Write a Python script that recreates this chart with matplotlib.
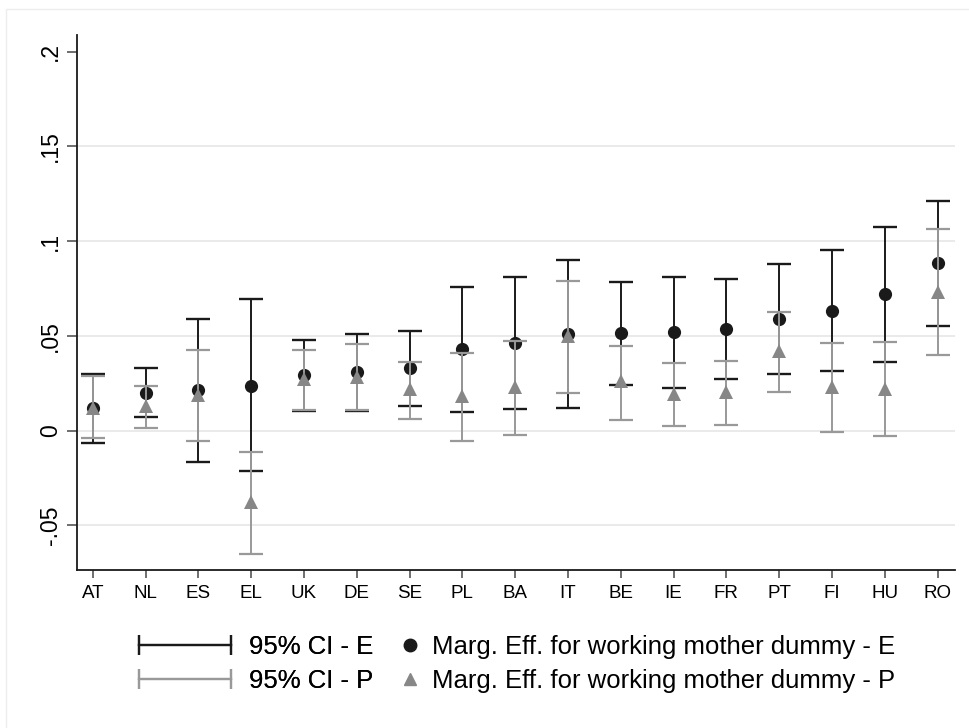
import matplotlib
matplotlib.use('Agg')
import matplotlib.pyplot as plt
import numpy as np
from matplotlib.lines import Line2D
from matplotlib.legend_handler import HandlerLine2D
from matplotlib.patches import Rectangle

# --- Data ---
countries = ['AT', 'NL', 'ES', 'EL', 'UK', 'DE', 'SE', 'PL', 'BA',
             'IT', 'BE', 'IE', 'FR', 'PT', 'FI', 'HU', 'RO']

# marginal effect and 95% CI - E
me_e = [0.0118, 0.0197, 0.0215, 0.0238, 0.0292, 0.0309, 0.0329, 0.0430, 0.0462,
        0.0512, 0.0513, 0.0520, 0.0538, 0.0589, 0.0633, 0.0719, 0.0884]
lo_e = [-0.0063, 0.0071, -0.0164, -0.0210, 0.0104, 0.0104, 0.0130, 0.0097, 0.0113,
        0.0118, 0.0241, 0.0225, 0.0274, 0.0299, 0.0315, 0.0364, 0.0554]
hi_e = [0.0300, 0.0332, 0.0590, 0.0693, 0.0479, 0.0510, 0.0528, 0.0760, 0.0813,
        0.0901, 0.0783, 0.0813, 0.0802, 0.0880, 0.0954, 0.1073, 0.1214]

# marginal effect and 95% CI - P
me_p = [0.0120, 0.0128, 0.0190, -0.0377, 0.0272, 0.0283, 0.0218, 0.0185, 0.0228,
        0.0500, 0.0260, 0.0195, 0.0203, 0.0418, 0.0233, 0.0222, 0.0734]
lo_p = [-0.0040, 0.0013, -0.0056, -0.0650, 0.0110, 0.0110, 0.0063, -0.0053, -0.0023,
        0.0197, 0.0056, 0.0025, 0.0030, 0.0204, -0.0005, -0.0026, 0.0400]
hi_p = [0.0290, 0.0236, 0.0426, -0.0110, 0.0426, 0.0456, 0.0364, 0.0412, 0.0475,
        0.0792, 0.0449, 0.0356, 0.0369, 0.0625, 0.0464, 0.0466, 0.1063]

yticks = [-0.05, 0, 0.05, 0.1, 0.15, 0.2]
ytick_labels = ['-.05', '0', '.05', '.1', '.15', '.2']

# --- Style ---
plt.rcParams['font.family'] = ['Liberation Sans', 'DejaVu Sans']
BLACK = '#1a1a1a'
GRAY_CI = '#999999'
GRAY_PT = '#878787'
LEG_FS = 18.5


def main():
    fig = plt.figure(figsize=(9.69, 7.28), dpi=100)
    fig.patches.append(Rectangle((6 / 969, -0.1), 1.2, 1.1 - 9 / 728,
                                 transform=fig.transFigure, fill=False,
                                 edgecolor='#ededed', lw=1))
    ax = fig.add_axes([77 / 969, 1 - 570 / 728, (955 - 77) / 969, (570 - 35) / 728])

    x = np.arange(len(countries))
    me_e_a, me_p_a = np.array(me_e), np.array(me_p)
    err_e = [me_e_a - np.array(lo_e), np.array(hi_e) - me_e_a]
    err_p = [me_p_a - np.array(lo_p), np.array(hi_p) - me_p_a]

    # grid lines (not at the top tick)
    for t in yticks[:-1]:
        ax.axhline(t, color='#e6e6e6', lw=1.2, zorder=0)

    ax.errorbar(x, me_e, yerr=err_e, fmt='none', ecolor=BLACK, elinewidth=1.4,
                capsize=8.5, capthick=1.7, zorder=2)
    ax.plot(x, me_e, 'o', color=BLACK, ms=9.5, mew=0, zorder=3)
    ax.errorbar(x, me_p, yerr=err_p, fmt='none', ecolor=GRAY_CI, elinewidth=1.4,
                capsize=8.5, capthick=1.6, zorder=4)
    ax.plot(x, me_p, '^', color=GRAY_PT, ms=9.5, mew=0, zorder=5)

    ax.set_xlim(-0.30, 16.33)
    ax.set_ylim(-0.0735, 0.2088)
    ax.set_xticks(x)
    ax.set_xticklabels(countries)
    ax.set_yticks(yticks)
    ax.set_yticklabels(ytick_labels)
    ax.tick_params(axis='y', labelrotation=90, length=7, width=1.2, pad=4,
                   labelsize=16.5, color='#555555')
    ax.tick_params(axis='x', length=6, width=1.2, pad=5, labelsize=13.5,
                   color='#555555')
    for lab in ax.get_yticklabels():
        lab.set_va('center')

    for s in ['top', 'right']:
        ax.spines[s].set_visible(False)
    for s in ['left', 'bottom']:
        ax.spines[s].set_color(BLACK)
        ax.spines[s].set_linewidth(1.3)

    # --- Legend ---
    ci_e = Line2D([], [], color=BLACK, lw=1.6, marker='|', ms=15, mew=1.6)
    ci_p = Line2D([], [], color=GRAY_CI, lw=1.6, marker='|', ms=15, mew=1.6)
    leg1 = fig.legend([ci_e, ci_p], ['95% CI - E', '95% CI - P'],
                      handler_map={ci_e: HandlerLine2D(numpoints=2),
                                   ci_p: HandlerLine2D(numpoints=2)},
                      loc='upper left', bbox_to_anchor=(118 / 969, 1 - 622 / 728),
                      frameon=False, fontsize=LEG_FS, handlelength=4.2,
                      handletextpad=0.38, labelspacing=0.38, borderpad=0)
    fig.add_artist(leg1)

    pt_e = Line2D([], [], color=BLACK, marker='o', ls='none', ms=9)
    pt_p = Line2D([], [], color=GRAY_PT, marker='^', ls='none', ms=9)
    fig.legend([pt_e, pt_p],
               ['Marg. Eff. for working mother dummy - E',
                'Marg. Eff. for working mother dummy - P'],
               loc='upper left', bbox_to_anchor=(384 / 969, 1 - 622 / 728),
               frameon=False, fontsize=LEG_FS, handlelength=1.0,
               handletextpad=0.38, labelspacing=0.38, borderpad=0)

    fig.savefig('out.png', dpi=100, facecolor='white')
    plt.close(fig)


if __name__ == '__main__':
    main()
